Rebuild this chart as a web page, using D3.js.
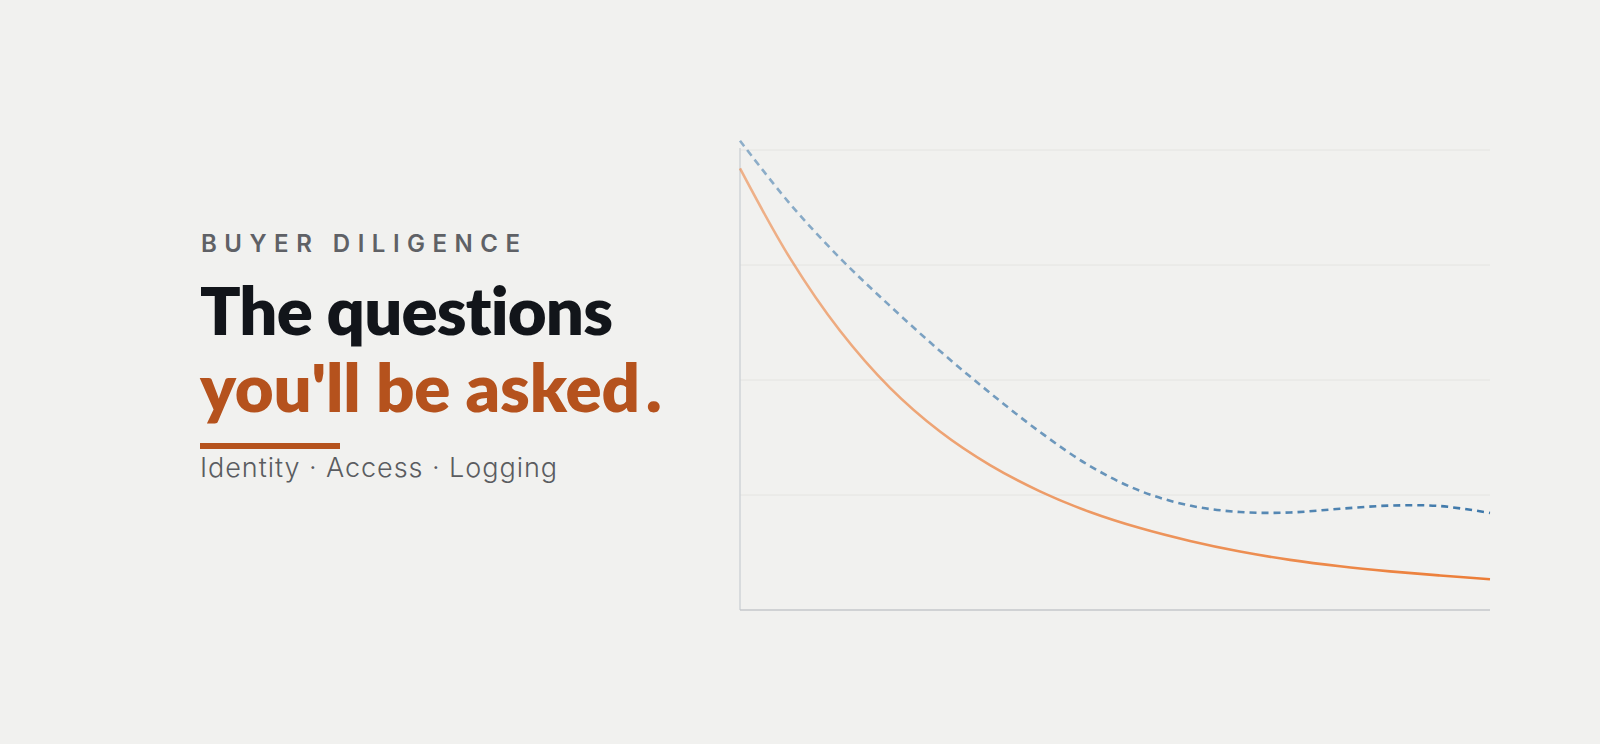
<!DOCTYPE html>
<html>
<head>
<meta charset="utf-8">
<script src="https://cdn.jsdelivr.net/npm/d3@7"></script>
<style>
  html, body { margin: 0; padding: 0; background: #f1f1ef; }
  svg { display: block; }
  text { font-variant-ligatures: none; font-feature-settings: "liga" 0, "clig" 0; }
</style>
</head>
<body>
<svg id="chart" width="1600" height="744"></svg>
<script>
// ---- data ----
const steps = [0,1,2,3,4,5,6,7,8,9,10,11,12,13,14,15];
const solidSeries = [96.0,76.5,60.7,48.3,38.8,31.5,25.8,21.3,17.8,15.0,12.7,10.9,9.5,8.4,7.5,6.7];
const dashedSeries = [102.0,88.3,76.5,66.1,56.3,47.2,38.7,31.3,25.9,22.7,21.3,21.2,22.0,22.7,22.6,21.1];
const gridTicks = [0,25,50,75,100];
const eyebrow = "BUYER DILIGENCE";
const titleLine1 = "The questions";
const titleLine2 = "you'll be asked";
const subtitle = "Identity · Access · Logging";

const svg = d3.select("#chart");
svg.append("rect").attr("width",1600).attr("height",744).attr("fill","#f1f1ef");

// ---- text block ----
const font = "Inter, 'Noto Sans', sans-serif";
const headFont = "Lato, Inter, sans-serif";
svg.append("text").attr("x",201).attr("y",252)
  .attr("font-family",font).attr("font-size",24).attr("font-weight",600)
  .attr("fill","#5f6166").attr("textLength",319).attr("lengthAdjust","spacing")
  .text(eyebrow);
svg.append("text").attr("x",200).attr("y",335)
  .attr("font-family",headFont).attr("font-size",67).attr("font-weight",800)
  .attr("fill","#12151a").attr("textLength",413).attr("lengthAdjust","spacing")
  .text(titleLine1);
const t2 = svg.append("text").attr("x",200).attr("y",412)
  .attr("font-family",headFont).attr("font-size",67).attr("font-weight",800)
  .attr("fill","#b5521d");
t2.append("tspan").attr("textLength",440).attr("lengthAdjust","spacing").text(titleLine2);
t2.append("tspan").attr("dx",6).text(".");
svg.append("rect").attr("x",200).attr("y",443).attr("width",140).attr("height",6).attr("fill","#b5521d");
svg.append("text").attr("x",200).attr("y",477)
  .attr("font-family",font).attr("font-size",27).attr("font-weight",300)
  .attr("fill","#5a5c60").attr("textLength",357).attr("lengthAdjust","spacing")
  .text(subtitle);

// ---- chart ----
const x0 = 740, x1 = 1490, yTop = 150, yBot = 610;
const x = d3.scaleLinear().domain([0,15]).range([x0,x1]);
const y = d3.scaleLinear().domain([0,100]).range([yBot,yTop]);

const defs = svg.append("defs");
function grad(id, color, o0) {
  const g = defs.append("linearGradient").attr("id",id)
    .attr("gradientUnits","userSpaceOnUse")
    .attr("x1",x0).attr("x2",x1).attr("y1",0).attr("y2",0);
  g.append("stop").attr("offset","0%").attr("stop-color",color).attr("stop-opacity",o0);
  g.append("stop").attr("offset","100%").attr("stop-color",color).attr("stop-opacity",1);
}
grad("gOrange","#ec7d37",0.55);
grad("gBlue","#3e78aa",0.55);

// gridlines
svg.append("g").selectAll("line").data(gridTicks.filter(d=>d>0)).join("line")
  .attr("x1",x0).attr("x2",x1)
  .attr("y1",d=>y(d)).attr("y2",d=>y(d))
  .attr("stroke","#e4e4e1").attr("stroke-width",1);

// axes
svg.append("line").attr("x1",x0).attr("x2",x0).attr("y1",yTop-2).attr("y2",yBot)
  .attr("stroke","#cfd3d7").attr("stroke-width",1.5);
svg.append("line").attr("x1",x0).attr("x2",x1).attr("y1",yBot).attr("y2",yBot)
  .attr("stroke","#c4c7cb").attr("stroke-width",1.5);

const line = d3.line().x((d,i)=>x(steps[i])).y(d=>y(d)).curve(d3.curveCatmullRom.alpha(0.5));

svg.append("path").datum(dashedSeries).attr("d",line)
  .attr("fill","none").attr("stroke","url(#gBlue)").attr("stroke-width",2.6)
  .attr("stroke-dasharray","7,5");
svg.append("path").datum(solidSeries).attr("d",line)
  .attr("fill","none").attr("stroke","url(#gOrange)").attr("stroke-width",2.6);
</script>
</body>
</html>
